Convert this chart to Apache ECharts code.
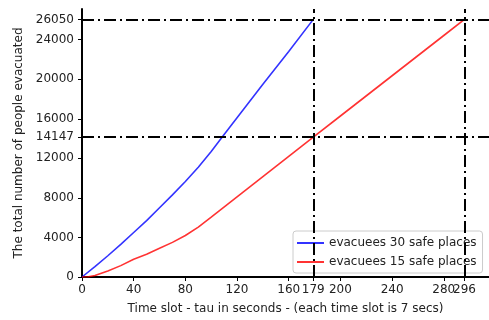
<!DOCTYPE html>
<html>
<head>
<meta charset="utf-8">
<script src="https://cdn.jsdelivr.net/npm/echarts@6/dist/echarts.min.js"></script>
<style>html,body{margin:0;padding:0;background:#fff;}#c{width:489px;height:320px;}</style>
</head>
<body>
<div id="c"></div>
<script>
// Data
const blueX = [0, 10, 20, 30, 40, 50, 60, 70, 80, 90, 100, 110, 120, 140, 160, 179];
const blueY = [0, 1050, 2150, 3300, 4500, 5700, 7000, 8300, 9650, 11100, 12700, 14400, 16100, 19500, 22800, 26050];
const redX = [0, 5, 10, 20, 30, 40, 50, 60, 70, 80, 90, 100, 120, 140, 160, 179, 200, 240, 280, 296];
const redY = [0, 20, 150, 600, 1150, 1800, 2300, 2900, 3500, 4200, 5050, 6050, 8100, 10150, 12200, 14147, 16280, 20350, 24420, 26050];
const xTicks = [0, 40, 80, 120, 160, 179, 200, 240, 280];
const xTicksExtra = [296];
const yTicks = [0, 4000, 8000, 12000, 14147, 16000, 20000, 24000, 26050];
const hLines = [26050, 14147];
const vLines = [179, 296];
const seriesNames = ['evacuees 30 safe places', 'evacuees 15 safe places'];

const font = 'DejaVu Sans';
const fs = 12;
const chart = echarts.init(document.getElementById('c'), null, {renderer: 'canvas'});
const dash = [12, 4, 2, 4];
const pair = (xs, ys) => xs.map((x, i) => [x, ys[i]]);
const plain = v => String(v);
const labelStyle = {margin: 7, fontFamily: font, fontSize: fs, color: '#222', hideOverlap: false, formatter: plain};

chart.setOption({
  animation: false,
  backgroundColor: '#fff',
  grid: {left: 82, top: 9, right: 0, bottom: 43, containLabel: false},
  legend: {
    orient: 'vertical',
    left: 293, top: 231,
    backgroundColor: 'rgba(255,255,255,0.85)',
    borderColor: '#cccccc', borderWidth: 1, borderRadius: 3,
    padding: [5, 6, 4, 4],
    itemGap: 5,
    icon: 'rect',
    itemWidth: 27, itemHeight: 2,
    textStyle: {fontFamily: font, fontSize: fs, color: '#222', lineHeight: 14},
    data: seriesNames
  },
  xAxis: [{
    type: 'value', min: 0, max: 315,
    name: 'Time slot - tau in seconds - (each time slot is 7 secs)',
    nameLocation: 'middle', nameGap: 26,
    nameTextStyle: {fontFamily: font, fontSize: fs, color: '#222'},
    axisLine: {show: true, onZero: false, lineStyle: {color: '#000', width: 2}},
    axisTick: {show: true, inside: false, length: 4, customValues: xTicks, lineStyle: {color: '#000', width: 1}},
    axisLabel: Object.assign({customValues: xTicks}, labelStyle),
    splitLine: {show: false}
  }, {
    type: 'value', min: 0, max: 315, position: 'top',
    axisLine: {show: true, lineStyle: {color: '#000', width: 2}},
    axisTick: {show: false}, axisLabel: {show: false}, splitLine: {show: false}
  }, {
    type: 'value', min: 0, max: 315, position: 'bottom', offset: 0,
    axisLine: {show: false},
    axisTick: {show: true, inside: false, length: 4, customValues: xTicksExtra, lineStyle: {color: '#000', width: 1}},
    axisLabel: Object.assign({customValues: xTicksExtra}, labelStyle),
    splitLine: {show: false}
  }],
  yAxis: {
    type: 'value', min: 0, max: 27100,
    name: 'The total number of people evacuated',
    nameLocation: 'middle', nameGap: 51,
    nameTextStyle: {fontFamily: font, fontSize: fs, color: '#222'},
    axisLine: {show: true, onZero: false, lineStyle: {color: '#000', width: 2}},
    axisTick: {show: true, inside: false, length: 4, customValues: yTicks, lineStyle: {color: '#000', width: 1}},
    axisLabel: Object.assign({customValues: yTicks}, labelStyle, {margin: 8}),
    splitLine: {show: false}
  },
  series: [{
    name: seriesNames[0], type: 'line', data: pair(blueX, blueY),
    symbol: 'none', showSymbol: false, smooth: false,
    lineStyle: {color: 'rgba(0,0,255,0.8)', width: 1.6},
    itemStyle: {color: 'rgba(0,0,255,0.8)'},
    markLine: {
      silent: true, symbol: ['none', 'none'], label: {show: false},
      lineStyle: {color: '#000', width: 2, type: dash},
      data: hLines.map(v => ({yAxis: v})).concat(vLines.map(v => ({xAxis: v})))
    },
    z: 3
  }, {
    name: seriesNames[1], type: 'line', data: pair(redX, redY),
    symbol: 'none', showSymbol: false, smooth: false,
    lineStyle: {color: 'rgba(255,0,0,0.8)', width: 1.6},
    itemStyle: {color: 'rgba(255,0,0,0.8)'},
    z: 3
  }]
});
</script>
</body>
</html>
